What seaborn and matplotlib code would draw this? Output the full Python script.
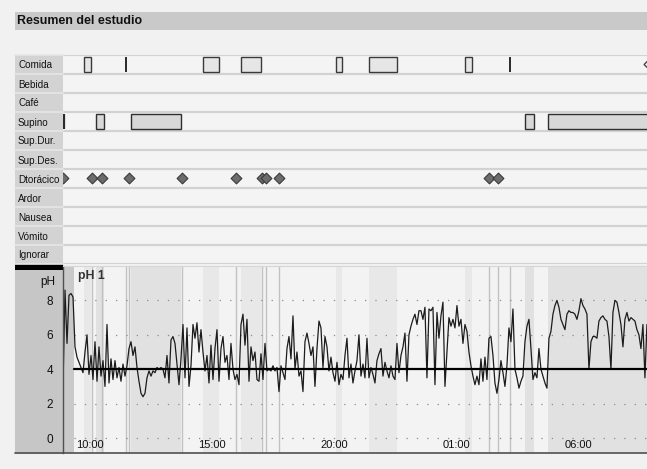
import numpy as np
import pandas as pd
import matplotlib
matplotlib.use("Agg")
import matplotlib.pyplot as plt
from matplotlib.patches import Rectangle
from matplotlib.lines import Line2D
from matplotlib import font_manager
import seaborn as sns

sns.set_style("white")
plt.rcParams['font.family'] = ['Liberation Sans', 'DejaVu Sans']
names = {f.name for f in font_manager.fontManager.ttflist}
NARROW = 'Liberation Sans Narrow' if 'Liberation Sans Narrow' in names else 'Liberation Sans'
NARROW_SIZE = 8.7 if NARROW == 'Liberation Sans Narrow' else 7.1

# ---------------- data ----------------
event_rows = ["Comida", "Bebida", "Café", "Supino", "Sup.Dur.", "Sup.Des.",
              "Dtorácico", "Ardor", "Nausea", "Vómito", "Ignorar"]

# times in hours since midnight of the first day (25 = 01:00 next day)
comida_start = [9.75, 14.63, 16.19, 20.08, 21.43, 25.37]
comida_end = [10.04, 15.29, 17.01, 20.33, 22.58, 25.66]
comida_instant = [11.48, 27.21]
comida_open = [32.90]
supino_start = [10.25, 11.68, 27.83, 28.77]
supino_end = [10.57, 13.73, 28.20, 32.95]
supino_instant = [8.92]
dtoracico = [8.893, 10.08, 10.49, 11.60, 13.77, 15.98, 17.05, 17.21, 17.75, 26.35, 26.72]
ignore_start = [8.893]
ignore_end = [9.34]

ph_start_hour = 8.893
ph_step_hours = 2 / 24.4   # about 4.9 min per sample
ph_seg1 = [3.0, 8.6, 5.5, 8.3, 8.4, 8.2, 5.3, 4.7, 4.4, 4.1, 3.8, 5.0, 6.0, 3.7, 4.8, 3.4,
           5.6, 3.3, 5.3, 3.6, 4.5, 3.0, 6.6, 3.2, 4.6, 3.4, 4.5, 3.5, 4.1, 3.3, 4.3, 3.6,
           4.2, 5.2, 5.6, 4.8, 5.3, 4.1, 3.3, 2.6, 2.4, 2.6, 3.5, 3.9, 3.6, 3.9, 3.8, 4.1, 4.0]
ph_seg2 = [4.1, 4.0, 3.5, 4.8, 3.2, 5.7, 5.9, 5.5, 4.3, 3.1, 4.6, 6.6, 3.5, 6.4, 3.0, 4.2,
           6.6, 5.8, 6.7, 5.0, 6.3, 5.0, 3.9, 4.8, 3.2, 5.4, 3.4, 5.2, 6.3, 3.3, 5.2, 5.9,
           4.4, 4.8, 3.4, 5.5, 4.0, 3.4, 3.7, 3.1, 6.6, 7.2, 5.4, 6.9, 3.3, 5.3, 4.5, 5.0, 3.4]
ph_seg3 = [3.3, 4.9, 3.4, 5.5, 3.9, 4.0, 3.9, 4.2, 3.9, 4.1, 2.7, 4.2, 3.8, 3.4, 5.2, 5.9,
           4.6, 7.1, 4.0, 5.0, 3.6, 3.9, 2.7, 5.6, 6.1, 5.5, 4.8, 5.3, 3.0, 5.2, 6.8, 6.4,
           4.1, 5.9, 5.3, 3.9, 4.7, 3.8, 3.3, 4.4, 3.1, 3.7, 3.4, 4.8, 5.8, 3.5, 4.3, 3.2, 3.9]
ph_seg4 = [4.5, 6.0, 3.6, 4.3, 3.5, 5.8, 3.5, 4.1, 3.7, 3.2, 4.5, 4.9, 5.2, 3.6, 4.4, 3.9,
           3.5, 4.2, 3.6, 3.4, 5.5, 3.8, 4.8, 5.3, 6.1, 3.3, 6.0, 6.5, 6.9, 7.2, 6.6, 7.4,
           7.4, 6.9, 7.6, 3.5, 7.5, 7.4, 7.6, 3.1, 7.3, 5.8, 7.1, 7.9, 3.0, 5.0, 7.0, 6.5, 6.9]
ph_seg5 = [6.4, 7.7, 6.5, 6.9, 5.5, 6.6, 6.2, 5.0, 4.2, 3.6, 3.1, 3.6, 3.1, 4.6, 3.3, 4.7,
           3.4, 5.8, 5.9, 4.8, 3.2, 2.6, 3.4, 4.5, 3.8, 3.0, 4.2, 6.4, 5.6, 7.5, 4.0, 3.5,
           2.9, 3.3, 3.6, 5.6, 6.5, 6.9, 5.2, 3.4, 3.8, 3.5, 5.2, 4.0, 3.6, 3.2, 2.9, 5.8, 6.2]
ph_seg6 = [7.2, 7.7, 8.0, 7.6, 6.9, 6.6, 6.3, 7.2, 7.4, 7.3, 7.3, 7.2, 6.9, 7.4, 8.1, 7.7,
           7.5, 7.2, 4.0, 5.6, 5.9, 5.9, 5.8, 6.8, 7.0, 7.1, 6.9, 6.8, 5.9, 4.0, 7.3, 8.0,
           7.9, 7.3, 6.6, 5.3, 6.9, 7.3, 6.8, 7.0, 6.9, 6.8, 6.3, 6.0, 5.2, 6.6, 3.5, 6.6]
ph_threshold = 4
ph_grid = [0, 2, 6, 8]

tick_hours = [10, 15, 20, 25, 30]
tick_labels = ["10:00", "15:00", "20:00", "01:00", "06:00"]
ytick_values = [0, 2, 4, 6, 8]

ph_values = ph_seg1 + ph_seg2 + ph_seg3 + ph_seg4 + ph_seg5 + ph_seg6
ph_df = pd.DataFrame({
    "hour": ph_start_hour + ph_step_hours * np.arange(len(ph_values)),
    "ph": ph_values,
})

# ---------------- layout ----------------
W, H = 647, 469
XMIN, XMAX = 8.893, 32.83

def fx(px):
    return px / W

def fy(py):
    return 1 - py / H

fig = plt.figure(figsize=(W / 100, H / 100), dpi=100)
fig.patch.set_facecolor('#f1f1f1')

def fig_rect(x0, y0, x1, y1, color):
    fig.add_artist(Rectangle((fx(x0), fy(y1)), (x1 - x0) / W, (y1 - y0) / H,
                             transform=fig.transFigure, facecolor=color,
                             edgecolor='none', zorder=-1))

fig_rect(15, 12, 647, 30, '#c9c9c9')     # title bar
fig_rect(15, 55, 63, 264, '#d3d3d3')     # event label column
fig_rect(15, 264, 63, 270, '#000000')    # black bar
fig_rect(15, 270, 63, 454, '#c6c6c6')    # pH left panel
fig.text(fx(17), fy(21.5), "Resumen del estudio", fontweight='bold',
         fontsize=8.9, va='center', ha='left', color='#111111')

# ---------------- event panel ----------------
ax1 = fig.add_axes([fx(63), fy(264), (647 - 63) / W, (264 - 55) / H])
ax1.set_facecolor('#f4f4f4')
for s in ax1.spines.values():
    s.set_visible(False)
ax1.set_xlim(XMIN, XMAX)
ax1.set_ylim(len(event_rows), 0)
ax1.set_xticks([])
ax1.set_yticks(np.arange(len(event_rows)) + 0.5)
ax1.set_yticklabels(event_rows, fontsize=NARROW_SIZE, family=NARROW, color='#111111')
ax1.tick_params(axis='y', length=0, pad=45 * 0.72)
for lbl in ax1.get_yticklabels():
    lbl.set_ha('left')
for i in range(len(event_rows) + 1):
    ax1.axhline(i, color='#d2d2d2', lw=1.6, zorder=1)
    ax1.axhline(i, xmin=-48 / 584, xmax=0, color='#e6e6e6', lw=1.2, clip_on=False)

r_com = event_rows.index("Comida") + 0.5
r_sup = event_rows.index("Supino") + 0.5
r_dto = event_rows.index("Dtorácico") + 0.5
bh = 0.74

ax1.barh(y=[r_com] * len(comida_start),
         width=np.array(comida_end) - np.array(comida_start),
         left=comida_start, height=bh, color='#e6e6e6',
         edgecolor='#3a3a3a', linewidth=1.0, zorder=3)
ax1.barh(y=[r_sup] * len(supino_start),
         width=np.array(supino_end) - np.array(supino_start),
         left=supino_start, height=bh, color='#d8d8d8',
         edgecolor='#2e2e2e', linewidth=1.0, zorder=3)
ax1.vlines(comida_instant, r_com - bh / 2, r_com + bh / 2, color='#2a2a2a', lw=1.4, zorder=3)
ax1.vlines(supino_instant, r_sup - bh / 2, r_sup + bh / 2, color='#2a2a2a', lw=1.6, zorder=3)

sns.scatterplot(x=dtoracico, y=[r_dto] * len(dtoracico), marker='D', s=30,
                color='#6c6c6c', edgecolor='#3a3a3a', linewidth=0.8, ax=ax1, zorder=4)
sns.scatterplot(x=comida_open, y=[r_com] * len(comida_open), marker='D', s=30,
                color='#f4f4f4', edgecolor='#3a3a3a', linewidth=0.9, ax=ax1, zorder=4)
ax1.set_xlim(XMIN, XMAX)
ax1.set_xlabel("")
ax1.set_ylabel("")

# ---------------- pH panel ----------------
ax2 = fig.add_axes([fx(63), fy(453), (647 - 63) / W, (453 - 266) / H])
ax2.set_facecolor('#f3f3f3')
ax2.set_xlim(XMIN, XMAX)
ax2.set_ylim(-0.87, 10.0)

for a, b in zip(ignore_start, ignore_end):
    ax2.axvspan(a, b, color='#c9c9c9', lw=0, zorder=0.1)
for a, b in zip(supino_start, supino_end):
    ax2.axvspan(a, b, color='#e1e1e1', lw=0, zorder=0.1)
for a, b in zip(comida_start, comida_end):
    ax2.axvspan(a, b, color='#e8e8e8', lw=0, zorder=0.1)
for t in dtoracico + comida_instant:
    ax2.axvline(t, color='#c2c2c2', lw=1.0, zorder=0.2)

gx0 = (9.34 - XMIN) / (XMAX - XMIN)
for g in ph_grid:
    ax2.axhline(g, xmin=gx0, color='#8a8a8a', lw=0.9, ls=(0, (1, 7.3)), zorder=0.5)

sns.lineplot(data=ph_df, x="hour", y="ph", ax=ax2, color='#1c1c1c',
             linewidth=0.9, estimator=None, sort=False, zorder=2.5)
ax2.axhline(ph_threshold, xmin=gx0, color='#000000', lw=1.6, zorder=3)

ax2.set_xlabel("")
ax2.set_ylabel("")
ax2.set_yticks(ytick_values)
ax2.set_yticks([1, 3, 5, 7], minor=True)
ax2.set_xticks(tick_hours)
ax2.set_xticklabels(tick_labels)
ax2.set_xticks(np.arange(9, 33), minor=True)
ax2.tick_params(axis='y', which='major', direction='out', length=5.2, width=0.9,
                color='#404040', labelsize=8.5, pad=2, labelcolor='#111111')
ax2.tick_params(axis='y', which='minor', direction='out', length=3.8, width=0.9,
                color='#404040')
ax2.tick_params(axis='x', which='major', direction='in', length=17, width=0.8,
                color='#808080', labelsize=8, pad=-9.5, labelcolor='#111111')
ax2.tick_params(axis='x', which='minor', direction='in', length=8.5, width=0.8,
                color='#9a9a9a')
ax2.spines['right'].set_visible(False)
ax2.spines['top'].set_color('#d6d6d6')
ax2.spines['left'].set_color('#505050')
ax2.spines['left'].set_linewidth(1.0)
ax2.spines['bottom'].set_color('#505050')
ax2.spines['bottom'].set_linewidth(1.2)

fig.add_artist(Line2D([fx(15), fx(63)], [fy(453), fy(453)], transform=fig.transFigure,
                      color='#505050', lw=1.2))
fig.text(fx(40), fy(282), "pH", fontsize=8.5, va='center', ha='left', color='#111111')
fig.text(fx(78), fy(276), "pH 1", fontsize=8.8, fontweight='bold', va='center',
         ha='left', color='#333333')

fig.savefig("out.png", dpi=100, facecolor=fig.get_facecolor())
